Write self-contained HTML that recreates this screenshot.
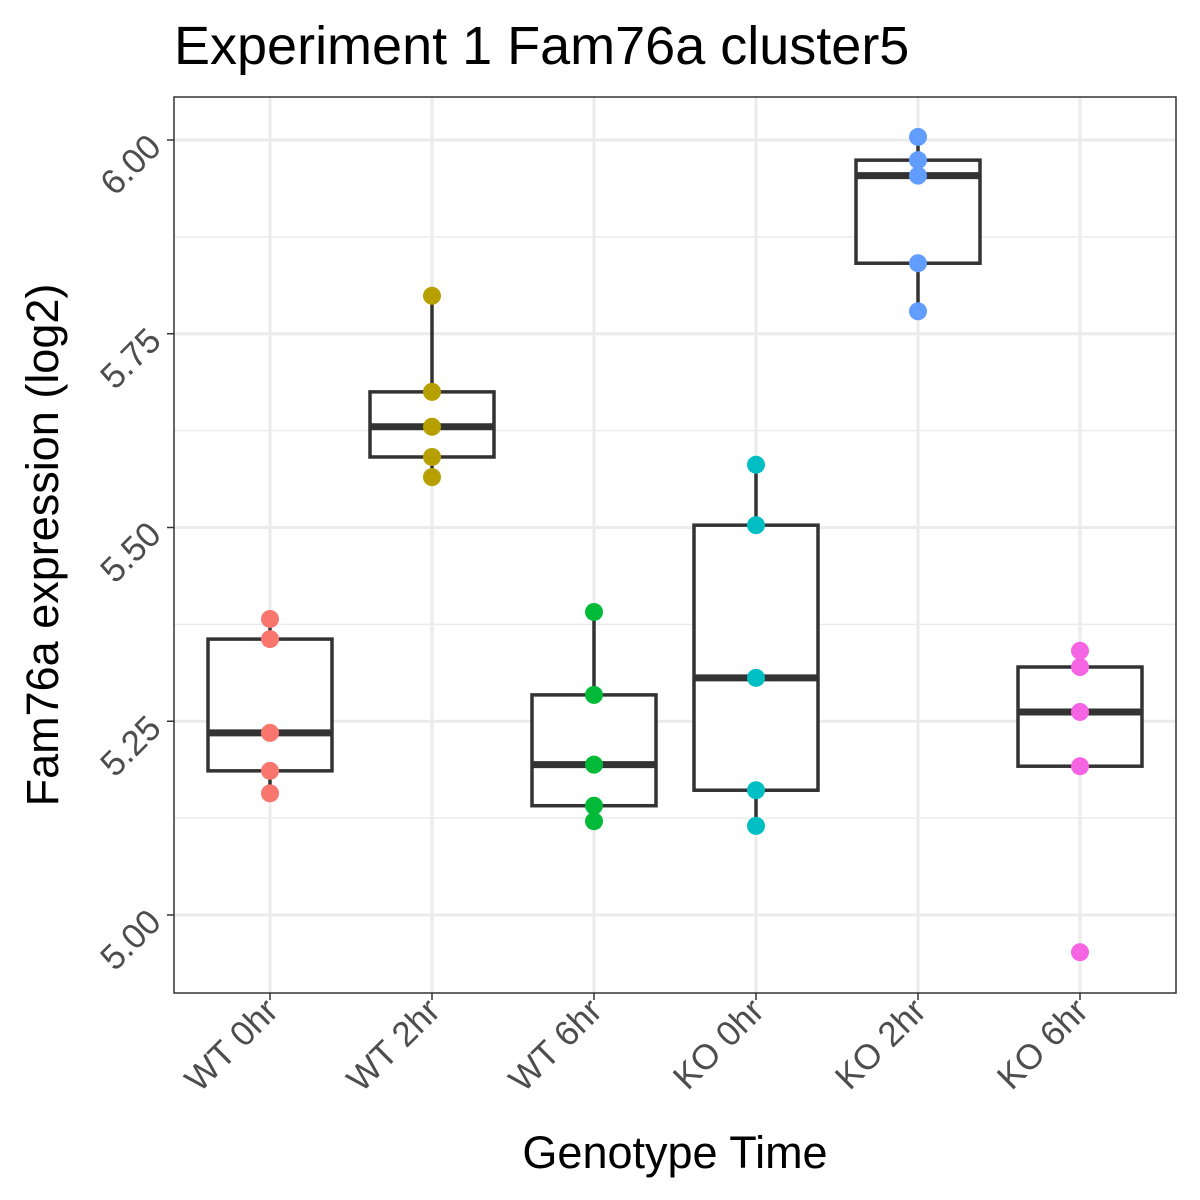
<!DOCTYPE html>
<html><head><meta charset="utf-8"><style>
html,body{margin:0;padding:0;background:#fff;}
svg{display:block;font-family:"Liberation Sans",Arial,sans-serif;}
</style></head><body>
<svg id="chart" width="1200" height="1200" viewBox="0 0 1200 1200" xmlns="http://www.w3.org/2000/svg">
<rect width="1200" height="1200" fill="#fff"/>
<text x="174" y="64" font-size="54" fill="#000">Experiment 1 Fam76a cluster5</text>
<text transform="translate(58,545) rotate(-90)" text-anchor="middle" font-size="45" fill="#000">Fam76a expression (log2)</text>
<text x="675" y="1168" text-anchor="middle" font-size="45" fill="#000">Genotype Time</text>
<g id="plot"></g>
</svg>
<script>
const categories = ["WT 0hr","WT 2hr","WT 6hr","KO 0hr","KO 2hr","KO 6hr"];
const colors = ["#F8766D","#B79F00","#00BA38","#00BFC4","#619CFF","#F564E3"];
const values0 = [5.382,5.356,5.235,5.186,5.157];
const values1 = [5.799,5.675,5.630,5.591,5.565];
const values2 = [5.391,5.284,5.194,5.141,5.121];
const values3 = [5.581,5.503,5.306,5.161,5.115];
const values4 = [6.004,5.974,5.954,5.841,5.779];
const values5 = [5.341,5.320,5.262,5.192,4.952];
const yTicks = [5.00,5.25,5.50,5.75,6.00];
const yTickLabels = ["5.00","5.25","5.50","5.75","6.00"];
const series = [values0,values1,values2,values3,values4,values5];

const NS="http://www.w3.org/2000/svg";
const g=document.getElementById('plot');
const L=174,R=1176,T=97,B=993;
function y(v){return 140+(6-v)*775;}
function x(i){return 270+i*162;}
function el(tag,attrs){const e=document.createElementNS(NS,tag);for(const k in attrs)e.setAttribute(k,attrs[k]);g.appendChild(e);return e;}

let e=el('rect',{x:L,y:T,width:R-L,height:B-T,fill:'#fff'});


for(let i=0;i<yTicks.length-1;i++){
  const m=(yTicks[i]+yTicks[i+1])/2;
  e=el('line',{x1:L,x2:R,y1:y(m),y2:y(m),stroke:'#EBEBEB','stroke-width':1.5});
  
  
}
yTicks.forEach(v=>{
  e=el('line',{x1:L,x2:R,y1:y(v),y2:y(v),stroke:'#EBEBEB','stroke-width':3});
  
  
});
categories.forEach((c,i)=>{
  e=el('line',{x1:x(i),x2:x(i),y1:T,y2:B,stroke:'#EBEBEB','stroke-width':3});
  
  
});

function q(arr,p){const s=[...arr].sort((a,b)=>a-b);const h=(s.length-1)*p;const lo=Math.floor(h);return s[lo]+(s[Math.min(lo+1,s.length-1)]-s[lo])*(h-lo);}

series.forEach((vals,i)=>{
  const q1=q(vals,0.25),q3=q(vals,0.75),md=q(vals,0.5),iqr=q3-q1;
  const inl=vals.filter(v=>v>=q1-1.5*iqr&&v<=q3+1.5*iqr);
  const lo=Math.min(...inl),hi=Math.max(...inl);
  const cx=x(i),hw=62;
  e=el('line',{x1:cx,x2:cx,y1:y(q3),y2:y(hi),stroke:'#333','stroke-width':3.5});
  
  
  e=el('line',{x1:cx,x2:cx,y1:y(q1),y2:y(lo),stroke:'#333','stroke-width':3.5});
  
  
  e=el('rect',{x:cx-hw,y:y(q3),width:2*hw,height:y(q1)-y(q3),fill:'#fff',stroke:'#333','stroke-width':3.5});
  
  
  e=el('line',{x1:cx-hw,x2:cx+hw,y1:y(md),y2:y(md),stroke:'#333','stroke-width':7});
  
  
  vals.forEach(v=>{
    if(v<q1-1.5*iqr||v>q3+1.5*iqr){
      e=el('circle',{cx:cx,cy:y(v),r:6,fill:'#333'});
      
      
    }
  });
  vals.forEach(v=>{
    e=el('circle',{cx:cx,cy:y(v),r:9,fill:colors[i]});
    
    
  });
});

e=el('rect',{x:L,y:T,width:R-L,height:B-T,fill:'none',stroke:'#333','stroke-width':1.5});



yTicks.forEach((v,i)=>{
  e=el('line',{x1:L-7,x2:L,y1:y(v),y2:y(v),stroke:'#333','stroke-width':1.5});
  
  
  const t=el('text',{transform:`translate(163,${y(v)+9}) rotate(-45)`,'text-anchor':'end','font-size':'35',fill:'#4D4D4D'});
  t.textContent=yTickLabels[i];
  
  
});
categories.forEach((c,i)=>{
  e=el('line',{x1:x(i),x2:x(i),y1:B,y2:B+7,stroke:'#333','stroke-width':1.5});
  
  
  const t=el('text',{transform:`translate(${x(i)+10},${B+20}) rotate(-45)`,'text-anchor':'end','font-size':'35',fill:'#4D4D4D'});
  t.textContent=c;
  
  
});
</script>
</body></html>
